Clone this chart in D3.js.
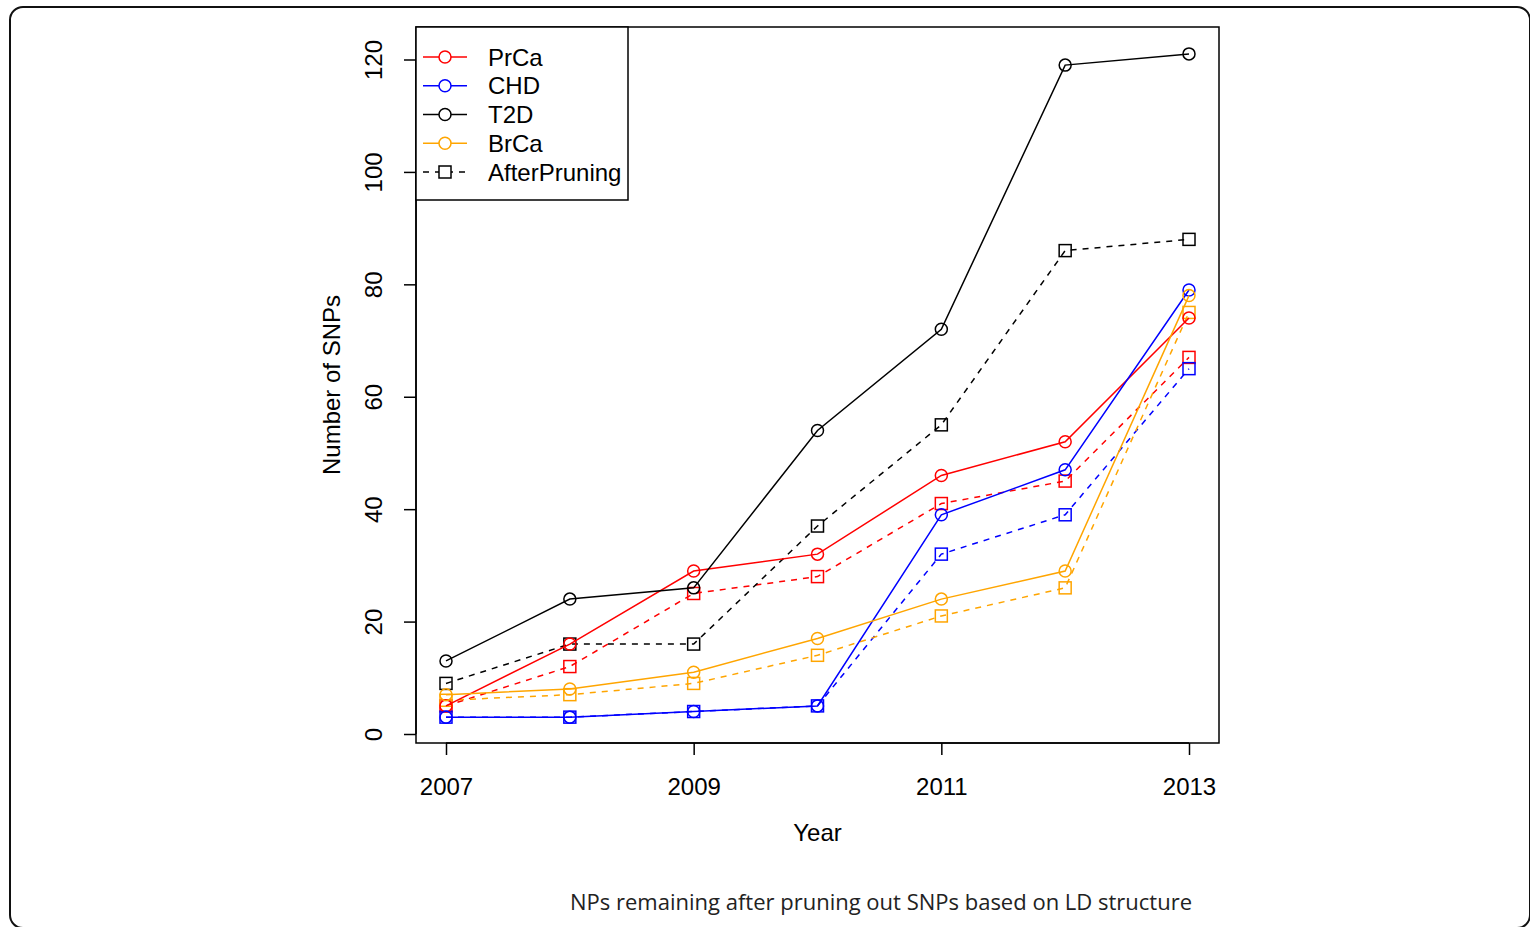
<!DOCTYPE html>
<html>
<head>
<meta charset="utf-8">
<script src="https://cdn.jsdelivr.net/npm/d3@7"></script>
<style>
  body { margin: 0; background: #fff; }
  svg text { font-family: "Liberation Sans", Arial, sans-serif; }
</style>
</head>
<body>
<svg id="chart" width="1530" height="927"></svg>
<script>
// data
var years = [2007, 2008, 2009, 2010, 2011, 2012, 2013];
var prcaAll = [5, 16, 29, 32, 46, 52, 74];
var prcaPruned = [5, 12, 25, 28, 41, 45, 67];
var chdAll = [3, 3, 4, 5, 39, 47, 79];
var chdPruned = [3, 3, 4, 5, 32, 39, 65];
var t2dAll = [13, 24, 26, 54, 72, 119, 121];
var t2dPruned = [9, 16, 16, 37, 55, 86, 88];
var brcaAll = [7, 8, 11, 17, 24, 29, 78];
var brcaPruned = [6, 7, 9, 14, 21, 26, 75];
var yTicks = [0, 20, 40, 60, 80, 100, 120];
var xTicks = [2007, 2009, 2011, 2013];
var legendNames = ["PrCa", "CHD", "T2D", "BrCa", "AfterPruning"];

var series = [
  {name: "PrCa", color: "#ff0000", all: prcaAll, pruned: prcaPruned},
  {name: "CHD", color: "#0000ff", all: chdAll, pruned: chdPruned},
  {name: "T2D", color: "#000000", all: t2dAll, pruned: t2dPruned},
  {name: "BrCa", color: "#ffa500", all: brcaAll, pruned: brcaPruned}
];

var fs = "24px";
var svg = d3.select("#chart");

// outer rounded frame
svg.append("rect")
  .attr("x", 10).attr("y", 7)
  .attr("width", 1520).attr("height", 921)
  .attr("rx", 13)
  .attr("fill", "none")
  .attr("stroke", "#111")
  .attr("stroke-width", 2);

var box = {left: 416, right: 1219, top: 27, bottom: 743};

var x = d3.scaleLinear().domain([2007, 2013]).range([446, 1189]);
var y = d3.scaleLinear().domain([0, 120]).range([734, 59.5]);

// plot box
svg.append("rect")
  .attr("x", box.left).attr("y", box.top)
  .attr("width", box.right - box.left).attr("height", box.bottom - box.top)
  .attr("fill", "none").attr("stroke", "#000").attr("stroke-width", 1.5);

// axes
const xAxis = svg.append("g")
  .attr("transform", "translate(0," + box.bottom + ")")
  .call(d3.axisBottom(x).tickValues(xTicks).tickFormat(d3.format("d")).tickSize(12).tickPadding(23));
xAxis.select(".domain").attr("d", "M" + x(2007) + ",0H" + x(2013)).attr("stroke-width", 1.5);
xAxis.selectAll("line").attr("stroke-width", 1.5);
xAxis.selectAll("text").style("font-size", fs).attr("fill", "#000")
  .style("font-family", "Liberation Sans, Arial, sans-serif");

const yAxis = svg.append("g")
  .attr("transform", "translate(" + box.left + ",0)")
  .call(d3.axisLeft(y).tickValues(yTicks).tickSize(12));
yAxis.select(".domain").attr("d", "M0," + y(0) + "V" + y(120)).attr("stroke-width", 1.5);
yAxis.selectAll("line").attr("stroke-width", 1.5);
yAxis.selectAll("text")
  .style("font-size", fs).attr("fill", "#000")
  .style("font-family", "Liberation Sans, Arial, sans-serif")
  .attr("x", 0).attr("dy", 0)
  .attr("text-anchor", "middle")
  .attr("transform", "translate(-34,0) rotate(-90)");

svg.append("text")
  .text("Year")
  .attr("x", (x(2007) + x(2013)) / 2)
  .attr("y", 841)
  .style("font-size", fs)
  .style("text-anchor", "middle");

svg.append("text")
  .text("Number of SNPs")
  .attr("transform", "translate(340," + ((box.top + box.bottom) / 2) + ") rotate(-90)")
  .style("font-size", fs)
  .style("text-anchor", "middle");

var line = d3.line()
  .x(function(d) { return x(d.year); })
  .y(function(d) { return y(d.value); });

function pts(vals) {
  return years.map(function(yr, i) { return {year: yr, value: vals[i]}; });
}

var plot = svg.append("g");

// dashed (after pruning) lines + squares
series.forEach(function(s) {
  var p = pts(s.pruned);
  plot.append("path")
    .datum(p)
    .attr("d", line)
    .attr("fill", "none")
    .attr("stroke", s.color)
    .attr("stroke-width", 1.5)
    .attr("stroke-dasharray", "6,6");
  plot.selectAll(null)
    .data(p).enter().append("rect")
    .attr("x", function(d) { return x(d.year) - 6; })
    .attr("y", function(d) { return y(d.value) - 6; })
    .attr("width", 12).attr("height", 12)
    .attr("fill", "none")
    .attr("stroke", s.color)
    .attr("stroke-width", 1.5);
});

// solid lines + circles
series.forEach(function(s) {
  var p = pts(s.all);
  plot.append("path")
    .datum(p)
    .attr("d", line)
    .attr("fill", "none")
    .attr("stroke", s.color)
    .attr("stroke-width", 1.5);
  plot.selectAll(null)
    .data(p).enter().append("circle")
    .attr("cx", function(d) { return x(d.year); })
    .attr("cy", function(d) { return y(d.value); })
    .attr("r", 6)
    .attr("fill", "none")
    .attr("stroke", s.color)
    .attr("stroke-width", 1.5);
});

// legend
var legend = svg.append("g");
legend.append("rect")
  .attr("x", box.left).attr("y", box.top)
  .attr("width", 212).attr("height", 173)
  .attr("fill", "#fff").attr("stroke", "#000").attr("stroke-width", 1.5);

var legendColors = series.map(function(s) { return s.color; }).concat(["#000000"]);
legendNames.forEach(function(name, i) {
  var ly = 57 + i * 28.75;
  var c = legendColors[i];
  var dashed = i === 4;
  legend.append("line")
    .attr("x1", 423).attr("x2", 467)
    .attr("y1", ly).attr("y2", ly)
    .attr("stroke", c).attr("stroke-width", 1.5)
    .attr("stroke-dasharray", dashed ? "6,6" : null);
  if (dashed) {
    legend.append("rect")
      .attr("x", 439).attr("y", ly - 6)
      .attr("width", 12).attr("height", 12)
      .attr("fill", "#fff").attr("stroke", c).attr("stroke-width", 1.5);
  } else {
    legend.append("circle")
      .attr("cx", 445).attr("cy", ly).attr("r", 6)
      .attr("fill", "#fff").attr("stroke", c).attr("stroke-width", 1.5);
  }
  legend.append("text")
    .text(name)
    .attr("x", 488).attr("y", ly + 8.5)
    .style("font-size", fs);
});

// caption (cut off in the original)
svg.append("text")
  .text("NPs remaining after pruning out SNPs based on LD structure")
  .attr("x", 570).attr("y", 910)
  .style("font-family", "Open Sans, Noto Sans, sans-serif")
  .style("font-size", "22px")
  .attr("fill", "#222");
</script>
</body>
</html>
